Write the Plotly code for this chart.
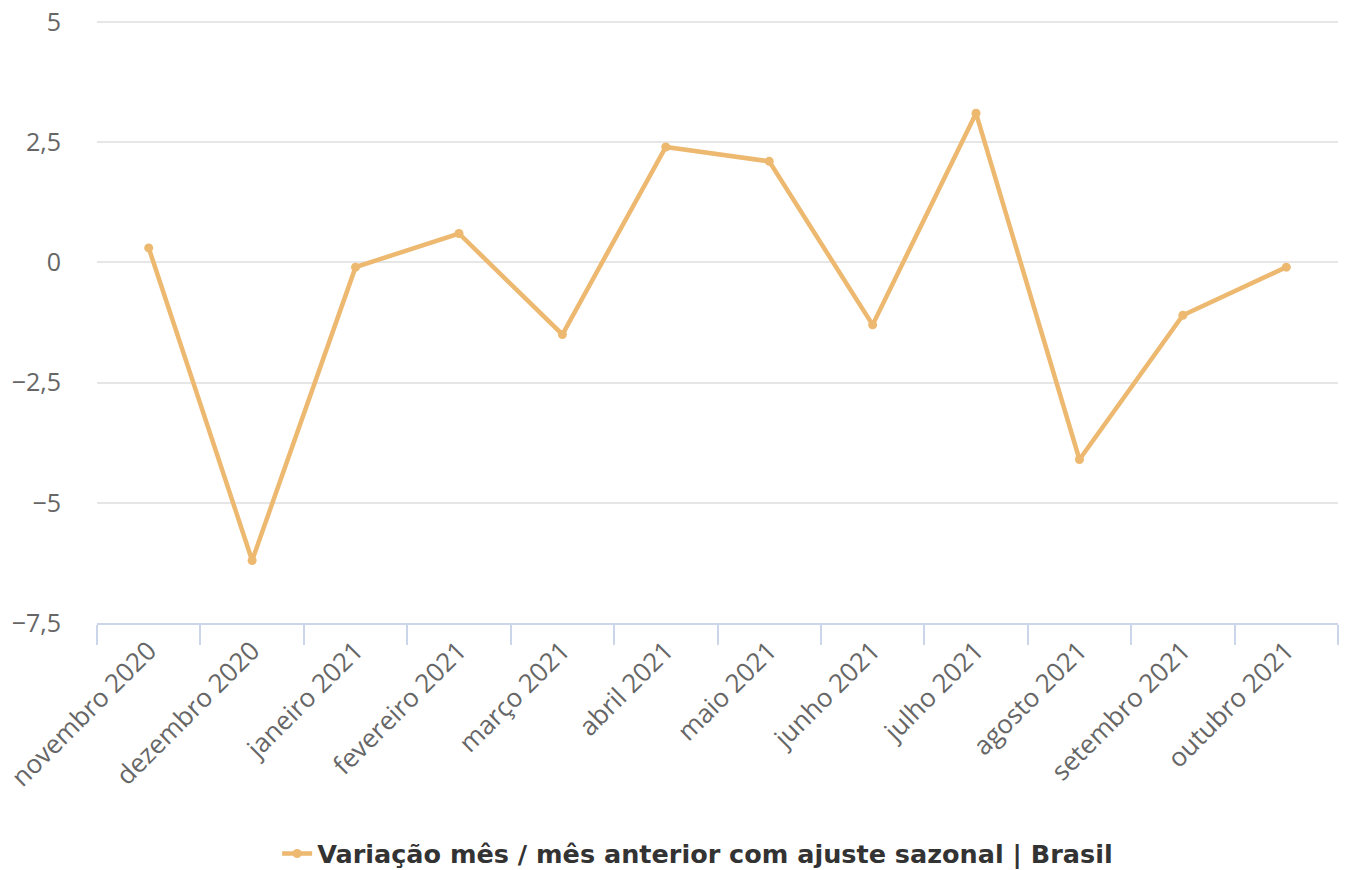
import plotly.graph_objects as go

categories = ["novembro 2020", "dezembro 2020", "janeiro 2021", "fevereiro 2021",
              "março 2021", "abril 2021", "maio 2021", "junho 2021", "julho 2021",
              "agosto 2021", "setembro 2021", "outubro 2021"]
values = [0.3, -6.2, -0.1, 0.6, -1.5, 2.4, 2.1, -1.3, 3.1, -4.1, -1.1, -0.1]
y_tickvals = [-7.5, -5, -2.5, 0, 2.5, 5]
y_ticktext = ["−7,5", "−5", "−2,5", "0", "2,5", "5"]
series_name = "Variação mês / mês anterior com ajuste sazonal | Brasil"

color = "#EDB86F"
fig = go.Figure()
fig.add_trace(go.Scatter(
    x=categories, y=values, mode="lines+markers", name=series_name,
    line=dict(color=color, width=4.5),
    marker=dict(color=color, size=9),
))
fig.update_layout(
    width=1346, height=870,
    margin=dict(l=97, r=8, t=20, b=247, autoexpand=False),
    plot_bgcolor="white", paper_bgcolor="white",
    font=dict(family="Open Sans", color="#666666", size=25),
    showlegend=True,
    legend=dict(orientation="h", x=0.484, xanchor="center", y=-0.383, yanchor="middle",
                itemwidth=30,
                font=dict(family="DejaVu Sans", size=25.5, color="#333333", weight="bold")),
    separators=",.",
)
fig.update_xaxes(
    type="category", range=[-0.5, 11.5], tickson="boundaries",
    ticks="outside", ticklen=20, tickcolor="#ccd6eb", tickwidth=2,
    showline=True, linecolor="#ccd6eb", linewidth=2,
    showgrid=False, tickangle=-45, tickfont=dict(size=26, color="#666666"),
    automargin=False,
)
fig.update_yaxes(
    range=[-7.5, 5.04], tickvals=y_tickvals, ticktext=y_ticktext,
    showgrid=True, gridcolor="#e6e6e6", gridwidth=2, zeroline=False,
    showline=False, ticklabelstandoff=35, tickfont=dict(size=25, color="#666666"),
    automargin=False,
)
fig.write_html("out.html", config={"displayModeBar": False},
               post_script="document.body.style.margin='0';")
